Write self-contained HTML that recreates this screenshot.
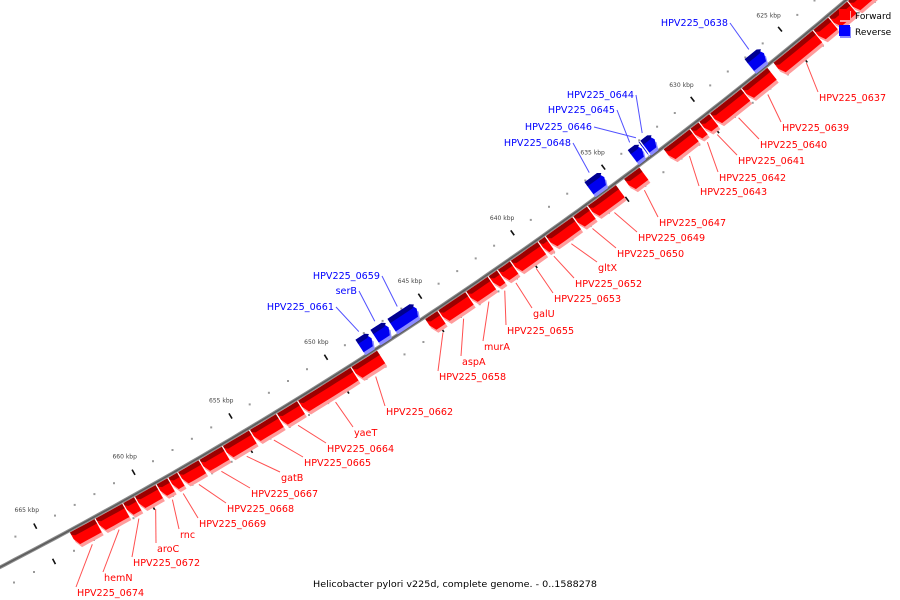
<!DOCTYPE html>
<html><head><meta charset="utf-8"><style>
html,body{margin:0;padding:0;background:#fff;overflow:hidden;width:900px;height:600px;}
svg{display:block;overflow:hidden;font-family:"DejaVu Sans","Liberation Sans",sans-serif;}
</style></head><body>
<svg id="map" width="900" height="600" viewBox="0 0 900 600">
<g id="ticks"></g>
<path id="backbone-shadow" fill="none" stroke="#8a8a8a" stroke-width="3.6"/>
<path id="backbone" fill="none" stroke="#5a5a5a" stroke-width="1.4"/>
<g id="genes"></g>
<g id="labels"></g>
<g>
 <rect x="840" y="11" width="11" height="11" fill="#ff9a9a"/>
 <rect x="839" y="9" width="11" height="11" fill="#f00"/>
 <text x="855" y="19" font-size="9" fill="#000">Forward</text>
 <rect x="840" y="27" width="11" height="11" fill="#8a8aff"/>
 <rect x="839" y="25" width="11" height="11" fill="#00f"/>
 <text x="855" y="35" font-size="9" fill="#000">Reverse</text>
</g>
<text x="313" y="587" font-size="9" fill="#000" textLength="284" lengthAdjust="spacingAndGlyphs">Helicobacter pylori v225d, complete genome. - 0..1588278</text>
</svg>
<script>
// ---- data ----
const geneName = ["","","","HPV225_0637","HPV225_0639","HPV225_0640","HPV225_0641","HPV225_0642","HPV225_0643","HPV225_0647","HPV225_0649","HPV225_0650","gltX","HPV225_0652","HPV225_0653","galU","HPV225_0655","murA","aspA","HPV225_0658","HPV225_0662","yaeT","HPV225_0664","HPV225_0665","gatB","HPV225_0667","HPV225_0668","HPV225_0669","rnc","aroC","HPV225_0672","hemN","HPV225_0674",
 "HPV225_0638","HPV225_0644","HPV225_0646","HPV225_0645","HPV225_0648","HPV225_0659","serB","HPV225_0661"];
const geneStart = [617.0,621.9,623.0,623.9,626.5,628.0,629.8,630.4,630.9,633.7,635.0,636.6,637.4,638.9,639.3,640.8,641.5,642.0,643.2,644.7,647.9,649.3,652.1,653.2,654.6,656.0,657.2,658.3,658.8,659.4,660.5,661.1,662.5,
 626.2,632.4,633.0,633.1,635.2,645.4,646.9,647.8];
const geneEnd = [621.9,623.0,623.9,626.2,628.0,629.8,630.4,630.9,632.4,634.6,636.6,637.4,638.9,639.3,640.8,641.5,642.0,643.2,644.7,645.4,649.3,652.1,653.2,654.6,656.0,657.2,658.3,658.8,659.4,660.5,661.1,662.5,663.8,
 627.1,633.0,633.1,633.7,636.1,646.8,647.7,648.5];
const geneStrand = [1,1,1,1,1,1,1,1,1,1,1,1,1,1,1,1,1,1,1,1,1,1,1,1,1,1,1,1,1,1,1,1,1,
 -1,-1,-1,-1,-1,-1,-1,-1];
const tickMajor = [620,625,630,635,640,645,650,655,660,665];
const tickLabels = ["620 kbp","625 kbp","630 kbp","635 kbp","640 kbp","645 kbp","650 kbp","655 kbp","660 kbp","665 kbp"];
const tickMinorFrom = 612, tickMinorTo = 672;
// label layout (pixel anchors for annotation text, one per gene)
const labelX = [null,null,null,819,782,760,738,719,700,659,638,617,598,575,554,533,507,484,462,439,386,354,327,304,281,251,227,199,180,157,133,104,77,
 728,634,592,615,571,380,357,334];
const labelY = [null,null,null,101,131,148,164,181,195,226,241,257,271,287,302,317,334,350,365,380,415,436,452,466,481,497,512,527,538,552,566,581,596,
 26,98,130,113,146,279,294,310];

// ---- geometry ----
const CX=-2081, CY=-3452, R=4526;
function ang(k){return (52.01+(k-630)*0.2851)*Math.PI/180;}
function pt(k,r){const a=ang(k);return [CX+r*Math.cos(a), CY+r*Math.sin(a)];}
const NS="http://www.w3.org/2000/svg";
function P(a){return a[0].toFixed(1)+","+a[1].toFixed(1);}

// backbone
let d="";
for(let k=605;k<=680;k+=0.5){const p=pt(k,R);d+=(k===605?"M":"L")+P(p)+" ";}
document.getElementById("backbone").setAttribute("d",d);
document.getElementById("backbone-shadow").setAttribute("d",d);

// ticks
const tg=document.getElementById("ticks");
for(let k=tickMinorFrom;k<=tickMinorTo;k++){
  if(tickMajor.indexOf(k)>=0) continue;
  [R-20,R+20].forEach(function(r){
    const p=pt(k,r);
    if(p[0]<-5||p[0]>905||p[1]<-5||p[1]>598) return;
    const c=document.createElementNS(NS,"rect");
    
    
    c.setAttribute("x",(p[0]-1).toFixed(1));c.setAttribute("y",(p[1]-1).toFixed(1));
    c.setAttribute("width","2");c.setAttribute("height","2");c.setAttribute("fill","#999");
    tg.appendChild(c);
  });
}
tickMajor.forEach(function(k,i){
  [R-20,R+20].forEach(function(r){
    const a=pt(k,r-3), b=pt(k,r+3);
    const l=document.createElementNS(NS,"line");
    
    
    l.setAttribute("x1",a[0]);l.setAttribute("y1",a[1]);l.setAttribute("x2",b[0]);l.setAttribute("y2",b[1]);
    l.setAttribute("stroke","#111");l.setAttribute("stroke-width","1.6");
    tg.appendChild(l);
  });
  const p=pt(k,R-38);
  const t=document.createElementNS(NS,"text");
  
  
  t.setAttribute("x",p[0]);t.setAttribute("y",p[1]+2);
  t.setAttribute("text-anchor","middle");t.setAttribute("font-size","6");t.setAttribute("fill","#444");
  t.textContent=tickLabels[i];
  tg.appendChild(t);
});

// genes
const gg=document.getElementById("genes");
function genePoly(k1,k2,r0,r1,strand){
  const ch=Math.min(0.15,(k2-k1)/3);
  const pts=[];
  const n=Math.max(2,Math.ceil((k2-k1)/0.5));
  if(strand>0){
    for(let i=0;i<=n;i++){pts.push(pt(k1+(k2-k1)*i/n,r0));}
    pts.push(pt(k2,(r0+r1)/2));
    pts.push(pt(k2-ch,r1));
    for(let i=n;i>=0;i--){const k=k1+(k2-k1-ch)*i/n;pts.push(pt(k,r1));}
  } else {
    pts.push(pt(k1,(r0+r1)/2));
    pts.push(pt(k1+ch,r0));
    for(let i=0;i<=n;i++){pts.push(pt(k1+ch+(k2-k1-ch)*i/n,r0));}
    for(let i=n;i>=0;i--){pts.push(pt(k1+(k2-k1)*i/n,r1));}
    pts[pts.length-1]=pt(k1+ch,r1);
  }
  return pts;
}
function addPoly(pts,fill,dx,dy,name){
  const e=document.createElementNS(NS,"polygon");
  
  
  e.setAttribute("points",pts.map(function(p){return (p[0]+dx).toFixed(1)+","+(p[1]+dy).toFixed(1);}).join(" "));
  e.setAttribute("fill",fill);
  gg.appendChild(e);
}
for(let i=0;i<geneStart.length;i++){
  const k1=geneStart[i]+0.03,k2=geneEnd[i]-0.03,s=geneStrand[i];
  const r0 = s>0 ? R+2 : R-19;
  const r1 = r0+15;
  const main=s>0?"#ff0000":"#0000f0", dark=s>0?"#9c0000":"#000090", sh=s>0?"#ff9c9c":"#8c8cff";
  const g=genePoly(k1,k2,r0,r1,s);
  addPoly(g,sh,2,3,"gene-shadow");
  addPoly(g,main,0,0,"gene-"+(geneName[i]||"unnamed"));
  addPoly(genePoly(k1,k2,r0,r0+5,s),dark,0,0,"gene-top-face");
}

// labels
const lg=document.getElementById("labels");
for(let i=0;i<geneStart.length;i++){
  if(labelX[i]===null) continue;
  const s=geneStrand[i], mid=(geneStart[i]+geneEnd[i])/2;
  const col=s>0?"#ff0000":"#0000ff", lcol=s>0?"#ff5050":"#5050ff";
  const a = s>0 ? pt(mid,R+23) : pt(mid,R-24);
  const bx = s>0 ? labelX[i]-1 : labelX[i]+2;
  const by = s>0 ? labelY[i]-9 : labelY[i]-3;
  const l=document.createElementNS(NS,"line");
  
  
  l.setAttribute("x1",a[0]);l.setAttribute("y1",a[1]);l.setAttribute("x2",bx);l.setAttribute("y2",by);
  l.setAttribute("stroke",lcol);l.setAttribute("stroke-width","1");
  lg.appendChild(l);
  const t=document.createElementNS(NS,"text");
  
  
  t.setAttribute("x",labelX[i]);t.setAttribute("y",labelY[i]);
  t.setAttribute("font-size","9.6");t.setAttribute("fill",col);
  if(s<0) t.setAttribute("text-anchor","end");
  t.textContent=geneName[i];
  lg.appendChild(t);
}
</script>
</body></html>
